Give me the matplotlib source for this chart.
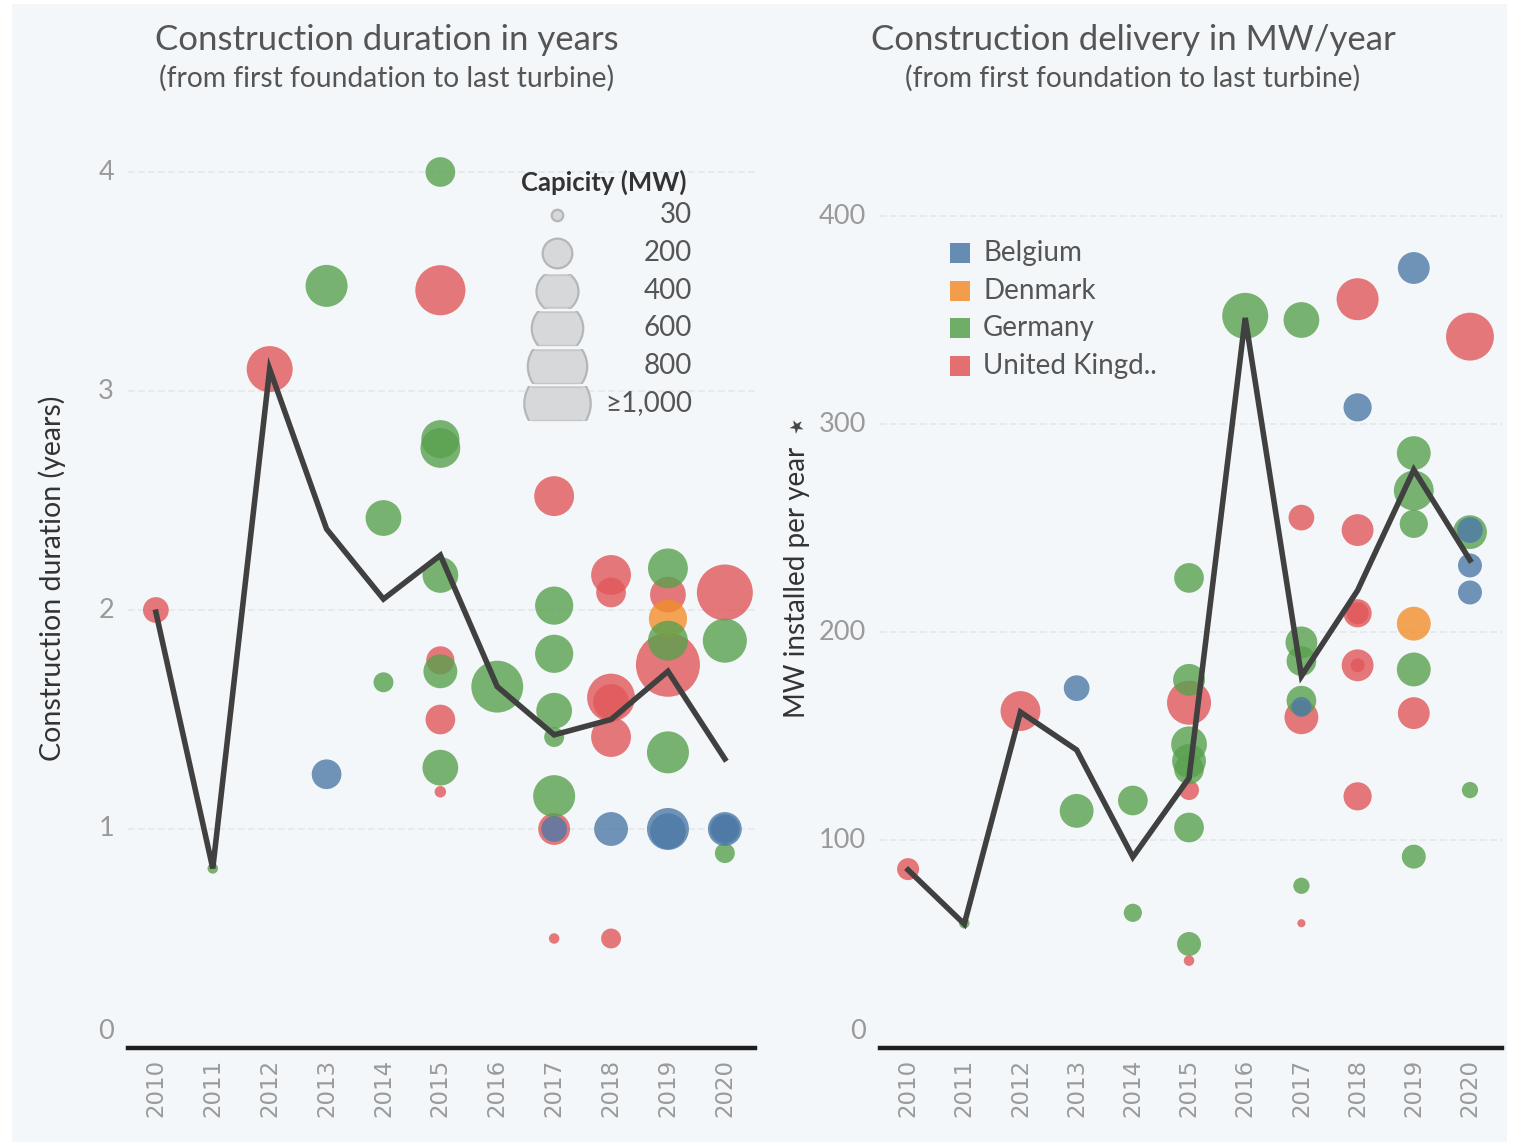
import numpy as np
import matplotlib
matplotlib.use("Agg")
import matplotlib.pyplot as plt
from matplotlib.patches import Rectangle

plt.rcParams['font.family'] = ['Lato', 'DejaVu Sans']

# --- data -------------------------------------------------------------
years = list(range(2010, 2021))
countries = ['Belgium', 'Denmark', 'Germany', 'United Kingd..']
colors = {'BE': '#4e79a7', 'DK': '#f28e2b', 'DE': '#59a14f', 'UK': '#e15759'}
draw_order = ['UK', 'DK', 'DE', 'BE']

# construction duration (years) per wind farm
dur_year = [2010, 2011, 2012, 2013, 2013, 2014, 2014,
            2015, 2015, 2015, 2015, 2015, 2015, 2015, 2015, 2015, 2015,
            2016,
            2017, 2017, 2017, 2017, 2017, 2017, 2017, 2017, 2017,
            2018, 2018, 2018, 2018, 2018, 2018, 2018,
            2019, 2019, 2019, 2019, 2019, 2019, 2019, 2019,
            2020, 2020, 2020, 2020, 2020, 2020]
dur_country = ['UK', 'DE', 'UK', 'DE', 'BE', 'DE', 'DE',
               'DE', 'UK', 'DE', 'DE', 'DE', 'UK', 'DE', 'UK', 'DE', 'UK',
               'DE',
               'UK', 'DE', 'DE', 'DE', 'DE', 'DE', 'UK', 'BE', 'UK',
               'UK', 'UK', 'UK', 'UK', 'UK', 'BE', 'UK',
               'UK', 'DK', 'DE', 'DE', 'UK', 'DE', 'BE', 'BE',
               'UK', 'DE', 'BE', 'BE', 'BE', 'DE']
dur_value = [2.0, 0.82, 3.10, 3.48, 1.25, 2.42, 1.67,
             4.0, 3.46, 2.78, 2.74, 2.16, 1.77, 1.72, 1.50, 1.28, 1.17,
             1.65,
             2.52, 2.02, 1.80, 1.54, 1.42, 1.15, 1.0, 1.0, 0.50,
             2.16, 2.08, 1.60, 1.58, 1.42, 1.0, 0.50,
             2.07, 1.96, 2.19, 1.86, 1.75, 1.35, 1.0, 0.99,
             2.08, 1.86, 1.0, 1.0, 1.0, 0.89]
dur_mw = [150, 25, 480, 400, 200, 290, 90,
          200, 570, 330, 360, 290, 180, 260, 200, 290, 30,
          610,
          360, 330, 330, 290, 90, 400, 230, 150, 25,
          360, 200, 520, 290, 360, 260, 90,
          290, 330, 360, 360, 930, 400, 400, 290,
          710, 440, 260, 200, 150, 90]
dur_avg = [1.99, 0.82, 3.10, 2.37, 2.05, 2.25, 1.65, 1.43, 1.50, 1.72, 1.32]

# delivery rate (MW installed per year) per wind farm
rate_year = [2010, 2011, 2012, 2013, 2013, 2014, 2014,
             2015, 2015, 2015, 2015, 2015, 2015, 2015, 2015, 2015, 2015,
             2016,
             2017, 2017, 2017, 2017, 2017, 2017, 2017, 2017, 2017,
             2018, 2018, 2018, 2018, 2018, 2018, 2018, 2018,
             2019, 2019, 2019, 2019, 2019, 2019, 2019, 2019,
             2020, 2020, 2020, 2020, 2020, 2020]
rate_country = ['UK', 'DE', 'UK', 'BE', 'DE', 'DE', 'DE',
                'DE', 'DE', 'UK', 'DE', 'DE', 'DE', 'UK', 'DE', 'DE', 'UK',
                'DE',
                'DE', 'UK', 'DE', 'DE', 'DE', 'BE', 'UK', 'DE', 'UK',
                'UK', 'BE', 'UK', 'UK', 'UK', 'UK', 'UK', 'UK',
                'BE', 'DE', 'DE', 'DE', 'DK', 'DE', 'UK', 'DE',
                'UK', 'DE', 'BE', 'BE', 'BE', 'DE']
rate_value = [86, 60, 162, 173, 114, 119, 65,
              226, 177, 166, 146, 138, 134, 124, 106, 50, 42,
              352,
              350, 255, 195, 186, 167, 164, 159, 78, 60,
              360, 308, 249, 209, 209, 184, 184, 121,
              375, 286, 268, 252, 204, 182, 161, 92,
              342, 248, 249, 232, 219, 124]
rate_mw = [110, 25, 360, 150, 260, 200, 75,
           200, 230, 440, 290, 260, 200, 90, 200, 130, 25,
           480,
           290, 150, 230, 200, 200, 90, 260, 60, 15,
           400, 180, 230, 180, 110, 230, 45, 180,
           230, 260, 360, 180, 260, 260, 230, 130,
           520, 260, 150, 130, 130, 60]
rate_avg = [85.6, 59.6, 161.5, 143.3, 91.8, 129.8, 351, 178.8, 220, 278, 234.6]

size_legend = [30, 200, 400, 600, 800, 1000]
size_legend_labels = ['30', '200', '400', '600', '800', '\u22651,000']

W, H, DPI = 1519, 1146, 100
BG = '#f4f7f9'
GRID = '#e4e8eb'
TICK = '#9a9a9a'
TEXT = '#555555'
LINE = '#404040'


def msize(mw):
    # marker area (points^2) from capacity, diameter ~ 2.1*sqrt(MW) pixels
    d_px = 2.1 * np.sqrt(np.asarray(mw, dtype=float))
    return (d_px * 72.0 / DPI) ** 2


def px(x, y):
    return x / W, 1 - y / H


fig = plt.figure(figsize=(W / DPI, H / DPI), dpi=DPI, facecolor='white')
fig.add_artist(Rectangle((12 / W, 4 / H), 1495 / W, 1 - 8 / H,
                         transform=fig.transFigure, facecolor=BG,
                         edgecolor='none', zorder=-10))


def panel(rect, xlim, ylim, yticks, ylabels, vals, yrs, ctry, mw, avg):
    ax = fig.add_axes(rect)
    ax.set_facecolor('none')
    ax.set_xlim(*xlim)
    ax.set_ylim(*ylim)
    for s in ['top', 'right', 'left']:
        ax.spines[s].set_visible(False)
    ax.spines['bottom'].set_color('#1e1e1e')
    ax.spines['bottom'].set_linewidth(3.2)
    for t in yticks[1:]:
        ax.axhline(t, color=GRID, lw=1.2, ls=(0, (4, 2)), zorder=0)
    ax.set_yticks([])
    for t, lab in zip(yticks, ylabels):
        ax.annotate(lab, xy=(0, t), xycoords=('axes fraction', 'data'),
                    xytext=(-10, 12 if t == 0 else 0), textcoords='offset points',
                    ha='right', va='center', fontsize=19.5, color=TICK)
    ax.set_xticks(years)
    ax.set_xticklabels([str(y) for y in years], rotation=90, fontsize=16.5,
                       color=TICK, family=['DejaVu Sans'])
    ax.tick_params(axis='x', length=0, pad=8)

    yrs = np.array(yrs)
    vals = np.array(vals)
    mw = np.array(mw)
    ctry = np.array(ctry)
    for c in draw_order:
        m = ctry == c
        ax.scatter(yrs[m], vals[m], s=msize(mw[m]), color=colors[c], alpha=0.8,
                   edgecolors='none', clip_on=False, zorder=2)
    ax.plot(years, avg, color=LINE, lw=4.0, solid_joinstyle='miter', zorder=3,
            clip_on=False)
    return ax


ax1 = panel([128 / W, 98 / H, 627 / W, (1048 - 150) / H],
            (2009.51, 2020.53), (0, (1048 - 150) / 219.0),
            [0, 1, 2, 3, 4], ['0', '1', '2', '3', '4'],
            dur_value, dur_year, dur_country, dur_mw, dur_avg)
ax2 = panel([880 / W, 98 / H, 622 / W, (1048 - 190) / H],
            (2009.50, 2020.57), (0, (1048 - 190) / 2.08),
            [0, 100, 200, 300, 400], ['0', '100', '200', '300', '400'],
            rate_value, rate_year, rate_country, rate_mw, rate_avg)

# titles
for cx, t in [(387, 'Construction duration in years'),
              (1133, 'Construction delivery in MW/year')]:
    fig.text(*px(cx, 40), t, ha='center', va='center', fontsize=25, color=TEXT)
    fig.text(*px(cx, 78), '(from first foundation to last turbine)',
             ha='center', va='center', fontsize=20.3, color=TEXT)

# axis titles
fig.text(*px(52, 578), 'Construction duration (years)', rotation=90,
         ha='center', va='center', fontsize=20.5, color='#333333')
fig.text(*px(797, 582), 'MW installed per year', rotation=90,
         ha='center', va='center', fontsize=20, color='#333333')
fig.text(*px(797, 427), '\u2605', rotation=30, ha='center', va='center',
         fontsize=13, color='#444444', family=['DejaVu Sans'])

# size legend: stacked circles, each clipped to its own row
fig.text(*px(604, 182), 'Capicity (MW)', ha='center', va='center',
         fontsize=18.5, color='#333333', fontweight='bold')
leg_y = [215, 253, 291, 328, 366, 403]
for mwv, lab, yy in zip(size_legend, size_legend_labels, leg_y):
    band = Rectangle((500 / W, 1 - (yy + 17) / H), 120 / W, 34 / H,
                     transform=fig.transFigure)
    # filled body clipped to the row, plus a slightly flattened outline
    sc = ax1.scatter([557 / W], [1 - yy / H], s=msize([mwv]),
                     transform=fig.transFigure, color='#d6d8da',
                     edgecolors='#b4b6b8', linewidths=1.6, zorder=5)
    sc.set_clip_path(band)
    if mwv > 300:
        d = 2.1 * np.sqrt(mwv)
        for sgn in (-1, 1):
            fig.add_artist(plt.Line2D(
                [(557 - d / 2 + 8) / W, (557 + d / 2 - 8) / W],
                [1 - (yy + sgn * 16.5) / H] * 2, transform=fig.transFigure,
                color='#c4c6c8', lw=1.0, zorder=6))
    fig.text(*px(692, yy), lab, ha='right', va='center', fontsize=20,
             color=TEXT, family=['Lato', 'DejaVu Sans'])

# colour legend
for i, (c, lab) in enumerate(zip(['BE', 'DK', 'DE', 'UK'], countries)):
    yy = 253 + i * 37.7
    fig.add_artist(Rectangle((950 / W, 1 - (yy + 10) / H), 20 / W, 20 / H,
                             transform=fig.transFigure, facecolor=colors[c],
                             alpha=0.85, edgecolor='none'))
    fig.text(*px(983, yy), lab, ha='left', va='center', fontsize=20, color=TEXT)

fig.savefig('out.png', dpi=DPI, facecolor='white')
